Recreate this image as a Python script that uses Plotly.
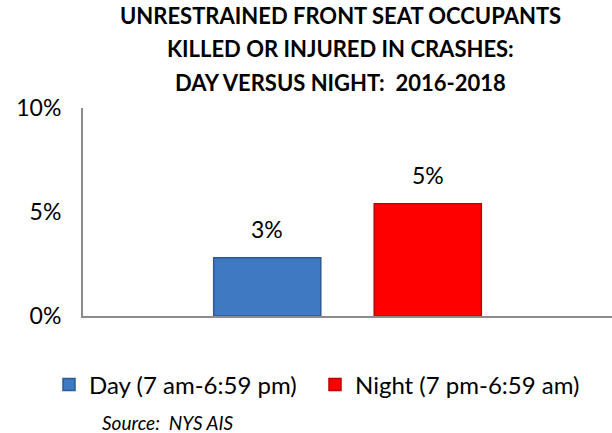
import plotly.graph_objects as go

# Share of unrestrained front seat occupants killed or injured, 2016-2018
series_names = ["Day (7 am-6:59 pm)", "Night (7 pm-6:59 am)"]
series_values = [0.028, 0.054]
series_colors = ["#3F79C2", "#FF0000"]
edge_colors = ["#2C5A93", "#C00000"]
category = [""]

title_lines = [
    "UNRESTRAINED FRONT SEAT OCCUPANTS",
    "KILLED OR INJURED IN CRASHES:",
    "DAY VERSUS NIGHT:  2016-2018",
]
source_text = "Source:  NYS AIS"

FONT = "Lato, Calibri, 'DejaVu Sans', sans-serif"

# plot area geometry in pixels (used to place the paper-referenced text)
L, T, B, H = 83, 108, 117, 433
PLOT_H = H - T - B
PLOT_W = 612 - L
BARGAP = 0.393


def py(pix):
    return (H - B - pix) / PLOT_H


def px(pix):
    return (pix - L) / PLOT_W


legend_ids = ["legend", "legend2"]
legend_left = [49, 315]

fig = go.Figure()
for name, val, col, edge, lg in zip(series_names, series_values, series_colors,
                                    edge_colors, legend_ids):
    fig.add_trace(go.Bar(
        x=category,
        y=[val],
        name=name,
        legend=lg,
        marker=dict(color=col, line=dict(color=edge, width=1.5)),
        hoverinfo="skip",
    ))

annotations = []
# value labels above each bar of the group
slot = (1 - BARGAP) / len(series_values)
for i, val in enumerate(series_values):
    annotations.append(dict(
        text=f"{val:.0%}",
        xref="x", yref="y",
        x=(i - (len(series_values) - 1) / 2) * slot, y=val,
        xanchor="center", yanchor="bottom",
        yshift=13,
        showarrow=False,
        font=dict(size=23, family=FONT, color="#000000"),
    ))
for i, line in enumerate(title_lines):
    annotations.append(dict(
        text=f"<b>{line}</b>",
        xref="paper", yref="paper",
        x=px(340), y=py(15 + 33.5 * i),
        xanchor="center", yanchor="middle",
        showarrow=False,
        font=dict(size=22, family=FONT, color="#000000"),
    ))
annotations.append(dict(
    text=f"<i>{source_text}</i>",
    xref="paper", yref="paper",
    x=px(236), y=py(422),
    xanchor="right", yanchor="middle",
    showarrow=False,
    font=dict(size=19, family=FONT, color="#000000"),
))

legend_style = dict(
    orientation="h",
    y=py(385),
    xanchor="left",
    yanchor="middle",
    font=dict(size=24, family=FONT, color="#000000"),
    itemwidth=30,
    bgcolor="rgba(0,0,0,0)",
)

fig.update_layout(
    width=612,
    height=433,
    margin=dict(l=L, r=0, t=T, b=B),
    paper_bgcolor="white",
    plot_bgcolor="white",
    font=dict(family=FONT, color="#000000"),
    barmode="group",
    bargap=BARGAP,
    bargroupgap=0.333,
    showlegend=True,
    legend=dict(x=px(legend_left[0]), **legend_style),
    legend2=dict(x=px(legend_left[1]), **legend_style),
    annotations=annotations,
)

fig.update_yaxes(
    range=[0, 0.10],
    dtick=0.05,
    tickformat=".0%",
    showgrid=False,
    zeroline=False,
    showline=True,
    linecolor="#8C8C8C",
    linewidth=2,
    ticks="",
    ticklabelstandoff=15,
    tickfont=dict(size=23, family=FONT, color="#000000"),
)
fig.update_xaxes(
    range=[-0.5, 0.5],
    showgrid=False,
    showline=True,
    linecolor="#8C8C8C",
    linewidth=2,
    ticks="",
    showticklabels=False,
)

fig.write_html("out.html")
